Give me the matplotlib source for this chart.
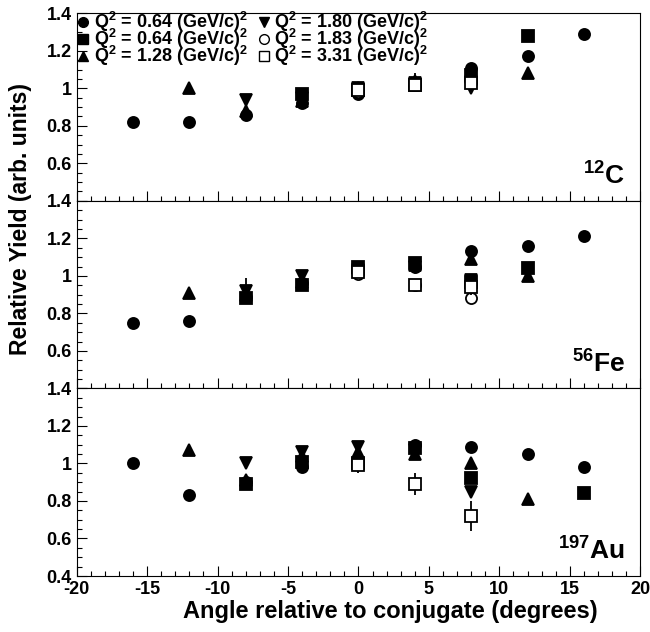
import numpy as np
import matplotlib
matplotlib.use('Agg')
import matplotlib.pyplot as plt
from matplotlib.lines import Line2D
from matplotlib.ticker import MultipleLocator, FuncFormatter

plt.rcParams['font.family'] = ['Liberation Sans', 'DejaVu Sans']
plt.rcParams['font.weight'] = 'bold'
plt.rcParams['mathtext.fontset'] = 'custom'
plt.rcParams['mathtext.rm'] = 'Liberation Sans:bold'
plt.rcParams['mathtext.bf'] = 'Liberation Sans:bold'
plt.rcParams['mathtext.it'] = 'Liberation Sans:bold'

nan = np.nan
angle = [-16, -12, -8, -4, 0, 4, 8, 12, 16]

labels = ['Q$^{2}$ = 0.64 (GeV/c)$^{2}$', 'Q$^{2}$ = 0.64 (GeV/c)$^{2}$',
          'Q$^{2}$ = 1.28 (GeV/c)$^{2}$', 'Q$^{2}$ = 1.80 (GeV/c)$^{2}$',
          'Q$^{2}$ = 1.83 (GeV/c)$^{2}$', 'Q$^{2}$ = 3.31 (GeV/c)$^{2}$']
targets = ['$^{12}$C', '$^{56}$Fe', '$^{197}$Au']

# 12C
c_s1 = [0.82, 0.82, 0.86, 0.92, 0.97, 1.03, 1.11, 1.17, 1.29]
c_s2 = [nan, nan, nan, 0.97, 0.99, 1.02, 1.07, 1.28, nan]
c_s3 = [nan, 1.00, 0.88, 0.93, 1.00, 1.04, 1.09, 1.08, nan]
c_s4 = [nan, nan, 0.94, 0.95, 1.00, 1.03, 1.00, nan, nan]
c_s5 = [nan, nan, nan, nan, 0.98, 1.02, 1.03, nan, nan]
c_s6 = [nan, nan, nan, nan, 0.99, 1.02, 1.03, nan, nan]
# 56Fe
fe_s1 = [0.75, 0.76, 0.89, 0.96, 1.05, 1.05, 1.13, 1.16, 1.21]
fe_s2 = [nan, nan, 0.88, 0.95, 1.05, 1.07, 0.97, 1.04, nan]
fe_s3 = [nan, 0.91, 0.90, 0.97, 1.04, 1.06, 1.09, 1.00, nan]
fe_s4 = [nan, nan, 0.92, 1.00, 1.03, 1.05, 0.98, nan, nan]
fe_s5 = [nan, nan, nan, nan, 1.01, 0.95, 0.88, nan, nan]
fe_s6 = [nan, nan, nan, nan, 1.02, 0.95, 0.94, nan, nan]
# 197Au
au_s1 = [1.00, 0.83, 0.90, 0.98, 1.00, 1.10, 1.09, 1.05, 0.98]
au_s2 = [nan, nan, 0.89, 1.01, 1.00, 1.08, 0.92, nan, 0.84]
au_s3 = [nan, 1.07, 0.91, 1.04, 1.06, 1.05, 1.00, 0.81, nan]
au_s4 = [nan, nan, 1.00, 1.06, 1.09, 1.07, 0.85, nan, nan]
au_s5 = [nan, nan, nan, nan, 1.00, nan, nan, nan, nan]
au_s6 = [nan, nan, nan, nan, 0.99, 0.89, 0.72, nan, nan]

# errors
err_s1 = 0.01
err_s2 = 0.015
err_s3 = 0.02
c_err4 = [0, 0, 0.03, 0.02, 0.02, 0.05, 0.03, 0, 0]
fe_err4 = [0, 0, 0.07, 0.03, 0.02, 0.03, 0.03, 0, 0]
au_err4 = [0, 0, 0.03, 0.03, 0.02, 0.02, 0.02, 0, 0]
err_s5 = 0.03
c_err6 = [0, 0, 0, 0, 0.02, 0.03, 0.04, 0, 0]
fe_err6 = [0, 0, 0, 0, 0.03, 0.03, 0.04, 0, 0]
au_err6 = [0, 0, 0, 0, 0.04, 0.06, 0.08, 0, 0]

panels = [
    [c_s1, c_s2, c_s3, c_s4, c_s5, c_s6],
    [fe_s1, fe_s2, fe_s3, fe_s4, fe_s5, fe_s6],
    [au_s1, au_s2, au_s3, au_s4, au_s5, au_s6],
]
errs4 = [c_err4, fe_err4, au_err4]
errs6 = [c_err6, fe_err6, au_err6]

markers = ['o', 's', '^', 'v', 'o', 's']
filled = [True, True, True, True, False, False]

fig = plt.figure(figsize=(6.5, 6.32), dpi=100)
left, right, bottom, top = 0.118, 0.985, 0.0886, 0.979
h = (top - bottom) / 3

axes = []
for i in range(3):
    ax = fig.add_axes([left, top - (i + 1) * h, right - left, h])
    axes.append(ax)
    series = panels[i]
    errors = [err_s1, err_s2, err_s3, errs4[i], err_s5, errs6[i]]
    for k in range(6):
        ax.errorbar(angle, series[k], yerr=errors[k], fmt=markers[k],
                    ms=8, color='black', mfc='black' if filled[k] else 'white',
                    mec='black', mew=1.3, elinewidth=1.3, capsize=0,
                    zorder=3 + k)
    ax.set_xlim(-20, 20)
    ax.set_ylim(0.4, 1.4)
    ax.xaxis.set_major_locator(MultipleLocator(5))
    ax.xaxis.set_minor_locator(MultipleLocator(1))
    ax.yaxis.set_major_locator(MultipleLocator(0.2))
    ax.yaxis.set_minor_locator(MultipleLocator(0.05))
    ax.tick_params(which='both', direction='in', top=False, right=False,
                   labelsize=13, width=0.8)
    ax.tick_params(which='major', length=7)
    ax.tick_params(which='minor', length=3.5)
    for sp in ax.spines.values():
        sp.set_linewidth(0.8)
    if i < 2:
        ax.tick_params(labelbottom=False)
        ax.yaxis.set_major_formatter(FuncFormatter(
            lambda v, p: '' if abs(v - 0.4) < 1e-6 else '%g' % round(v, 2)))
    else:
        ax.yaxis.set_major_formatter(FuncFormatter(lambda v, p: '%g' % round(v, 2)))
        ax.xaxis.set_major_formatter(FuncFormatter(lambda v, p: '%g' % v))
    ax.text(0.973, 0.085, targets[i], transform=ax.transAxes, ha='right',
            va='baseline', fontsize=19, fontweight='bold')

handles = [Line2D([], [], ls='none', marker=markers[k], ms=7, color='black',
                  mfc='black' if filled[k] else 'white', mec='black', mew=1.0)
           for k in range(6)]
leg = axes[0].legend(handles, labels, loc='upper left',
                     bbox_to_anchor=(-0.012, 1.055), ncol=2,
                     frameon=False, fontsize=13, handlelength=0.7,
                     handletextpad=0.25, columnspacing=0.5, labelspacing=-0.4,
                     borderaxespad=0.0)
for t in leg.get_texts():
    t.set_fontweight('bold')

fig.text(0.031, 0.653, 'Relative Yield (arb. units)', rotation=90,
         ha='center', va='center', fontsize=16.5, fontweight='bold')
fig.text(0.6, 0.032, 'Angle relative to conjugate (degrees)',
         ha='center', va='center', fontsize=17, fontweight='bold')

fig.savefig('out.png', dpi=100)
